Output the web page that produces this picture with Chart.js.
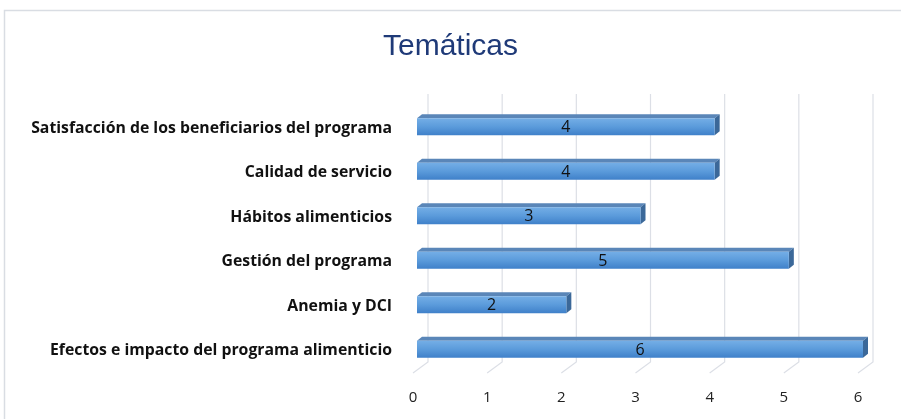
<!DOCTYPE html>
<html>
<head>
<meta charset="utf-8">
<script src="https://cdn.jsdelivr.net/npm/chart.js@4"></script>
<style>
  html, body { margin: 0; padding: 0; background: #fff; }
  #wrap { width: 901px; height: 419px; position: relative; }
</style>
</head>
<body>
<div id="wrap"><canvas id="myChart" width="901" height="419"></canvas></div>
<script>
// datos del gráfico
var categorias = [
    'Satisfacción de los beneficiarios del programa',
    'Calidad de servicio',
    'Hábitos alimenticios',
    'Gestión del programa',
    'Anemia y DCI',
    'Efectos e impacto del programa alimenticio'
];
var valores = [4, 4, 3, 5, 2, 6];
var ticksX = [0, 1, 2, 3, 4, 5, 6];

// marco gris alrededor del gráfico
var marco = {
    id: 'marco',
    beforeDraw: function (chart) {
        var ctx = chart.ctx;
        ctx.save();
        ctx.fillStyle = '#fff';
        ctx.fillRect(0, 0, chart.width, chart.height);
        ctx.strokeStyle = '#d9dde3';
        ctx.lineWidth = 1.5;
        ctx.strokeRect(4.5, 10.5, 920, 440);
        ctx.restore();
    }
};

// rejilla 3D (líneas atrás + diagonal del piso)
var rejilla3d = {
    id: 'rejilla3d',
    beforeDatasetsDraw: function (chart) {
        var ctx = chart.ctx, x = chart.scales.x, area = chart.chartArea;
        ctx.save();
        ctx.strokeStyle = '#dcdfe6';
        ctx.lineWidth = 1.2;
        ticksX.forEach(function (v) {
            var px = x.getPixelForValue(v);
            ctx.beginPath();
            ctx.moveTo(px + 15, area.top - 12);
            ctx.lineTo(px + 15, area.bottom - 11);
            ctx.lineTo(px, area.bottom);
            ctx.stroke();
        });
        ctx.restore();
    }
};

// barras con efecto 3D
var barras3d = {
    id: 'barras3d',
    afterDatasetsDraw: function (chart) {
        var ctx = chart.ctx;
        var meta = chart.getDatasetMeta(0);
        ctx.save();
        meta.data.forEach(function (bar, i) {
            var x0 = bar.base + 4, x1 = bar.x + 5;
            var h = 17, y0 = bar.y - 10, y1 = y0 + h;
            var dx = 5, dy = 4;
            // cara superior
            ctx.fillStyle = '#5a86b8';
            ctx.beginPath();
            ctx.moveTo(x0, y0);
            ctx.lineTo(x0 + dx, y0 - dy);
            ctx.lineTo(x1 + dx, y0 - dy);
            ctx.lineTo(x1, y0);
            ctx.closePath();
            ctx.fill();
            // cara lateral
            ctx.fillStyle = '#3b6899';
            ctx.beginPath();
            ctx.moveTo(x1, y0);
            ctx.lineTo(x1 + dx, y0 - dy);
            ctx.lineTo(x1 + dx, y1 - dy);
            ctx.lineTo(x1, y1);
            ctx.closePath();
            ctx.fill();
            // cara frontal
            var g = ctx.createLinearGradient(0, y0, 0, y1);
            g.addColorStop(0, '#74aee6');
            g.addColorStop(0.5, '#5b9bdb');
            g.addColorStop(1, '#3f80c9');
            ctx.fillStyle = g;
            ctx.fillRect(x0, y0, x1 - x0, h);
            // etiqueta
            ctx.fillStyle = '#111';
            ctx.font = '16px "Open Sans", sans-serif';
            ctx.textAlign = 'center';
            ctx.textBaseline = 'middle';
            ctx.fillText(String(valores[i]), (x0 + x1) / 2, y0 + h / 2 + 1);
        });
        ctx.restore();
    }
};

var data = {
    labels: categorias,
    datasets: [{
        label: 'Temáticas',
        data: valores,
        backgroundColor: 'rgba(0,0,0,0)',
        borderWidth: 0
    }]
};

var options = {
    responsive: false,
    animation: false,
    indexAxis: 'y',
    layout: { padding: { top: 10, right: 0, bottom: 0, left: 0 } },
    plugins: {
        legend: { display: false },
        tooltip: { enabled: false },
        title: {
            display: true,
            text: 'Temáticas',
            color: '#1f3a78',
            font: { family: '"Liberation Sans", Arial, sans-serif', size: 30, weight: 'normal' },
            padding: { top: 19, bottom: 41 }
        }
    },
    scales: {
        x: {
            min: 0,
            max: 6,
            grid: { display: false, drawTicks: false },
            border: { display: false },
            ticks: {
                stepSize: 1,
                padding: 16,
                color: '#222',
                font: { family: '"Open Sans", sans-serif', size: 15 }
            },
            afterFit: function (scale) { scale.height = 46; }
        },
        y: {
            grid: { display: false, drawTicks: false },
            border: { display: false },
            ticks: {
                padding: 21,
                color: '#111',
                font: { family: '"Open Sans", sans-serif', size: 15.8, weight: 'bold' }
            },
            afterFit: function (scale) { scale.width = 413; }
        },
        // eje vacío a la derecha solo para reservar espacio
        yDer: {
            type: 'linear',
            position: 'right',
            grid: { display: false, drawTicks: false },
            border: { display: false },
            ticks: { display: false },
            afterFit: function (scale) { scale.width = 43; }
        }
    }
};

var ctx = document.getElementById('myChart').getContext('2d');
var myChart = new Chart(ctx, {
    type: 'bar',
    data: data,
    options: options,
    plugins: [marco, rejilla3d, barras3d]
});
</script>
</body>
</html>
